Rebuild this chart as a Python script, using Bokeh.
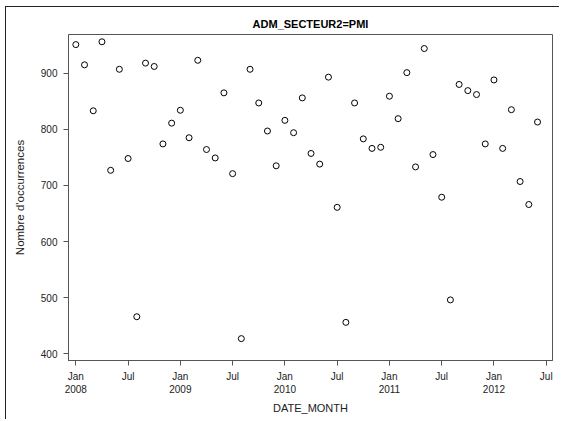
from bokeh.plotting import figure
from bokeh.models import Range1d, FixedTicker, ColumnDataSource
from bokeh.embed import file_html
from bokeh.resources import INLINE

# Month index 0 = Jan 2008
month_index = list(range(54))
occurrences = [951, 915, 833, 956, 727, 907, 748, 466, 918, 912, 774, 811,
               834, 785, 923, 764, 749, 865, 721, 427, 907, 847, 797, 735,
               816, 794, 856, 757, 738, 893, 661, 456, 847, 783, 766, 768,
               859, 819, 901, 733, 944, 755, 679, 496, 880, 869, 862, 774,
               888, 766, 835, 707, 666, 813]

x_tick_pos = [0, 6, 12, 18, 24, 30, 36, 42, 48, 54]
x_tick_labels = ["Jan\n2008", "Jul", "Jan\n2009", "Jul", "Jan\n2010", "Jul",
                 "Jan\n2011", "Jul", "Jan\n2012", "Jul"]
y_ticks = [400, 500, 600, 700, 800, 900]

FONT = "Liberation Sans"

p = figure(width=554, height=413, output_backend="svg", toolbar_location=None,
           x_range=Range1d(-0.84, 54.72), y_range=Range1d(388, 969),
           min_border_left=62, min_border_right=8, min_border_top=27,
           min_border_bottom=60, title="ADM_SECTEUR2=PMI")
p.styles = {"margin-left": "5px", "margin-top": "6px",
            "border-left": "1px solid #222222", "border-top": "1px solid #222222"}

src = ColumnDataSource(dict(x=month_index, y=occurrences))
p.scatter("x", "y", source=src, marker="circle", size=6, fill_color=None,
          line_color="black", line_width=1)

p.title.align = "center"
p.title.text_font = FONT
p.title.text_font_size = "11px"
p.title.text_font_style = "bold"
p.title.text_color = "black"

p.xgrid.visible = False
p.ygrid.visible = False
p.outline_line_color = "#555555"

p.xaxis.ticker = FixedTicker(ticks=x_tick_pos)
p.xaxis.major_label_overrides = {k: v for k, v in zip(x_tick_pos, x_tick_labels)}
p.yaxis.ticker = FixedTicker(ticks=y_ticks)

for ax in (p.xaxis[0], p.yaxis[0]):
    ax.major_tick_in = 0
    ax.major_tick_out = 5
    ax.minor_tick_in = 0
    ax.minor_tick_out = 0
    ax.axis_line_color = "#555555"
    ax.major_tick_line_color = "#555555"
    ax.major_label_text_font = FONT
    ax.major_label_text_font_size = "10px"
    ax.major_label_text_color = "#222222"
    ax.axis_label_text_font = FONT
    ax.axis_label_text_font_size = "11px"
    ax.axis_label_text_font_style = "normal"
    ax.axis_label_text_color = "#222222"

p.yaxis.axis_label_text_font_size = "11.5px"
p.xaxis.axis_label = "DATE_MONTH"
p.yaxis.axis_label = "Nombre d'occurrences"
p.xaxis.major_label_standoff = 5
p.yaxis.major_label_standoff = 6
p.xaxis.axis_label_standoff = 4
p.yaxis.axis_label_standoff = 12
p.background_fill_color = "white"
p.border_fill_color = "white"

open("out.html", "w").write(file_html(p, INLINE))
